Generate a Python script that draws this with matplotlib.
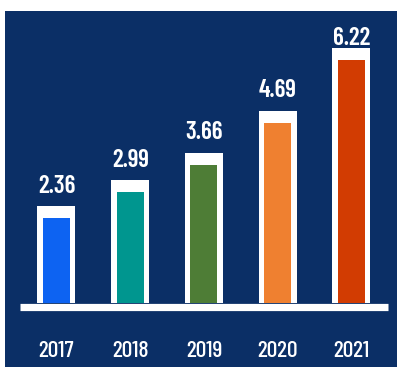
import matplotlib
matplotlib.use("Agg")
import matplotlib.pyplot as plt

# data
years = ['2017', '2018', '2019', '2020', '2021']
values = [2.36, 2.99, 3.66, 4.69, 6.22]
colors = ['#0d63f2', '#00968f', '#4e7d36', '#ef8030', '#d23c02']

navy = '#0b2f66'
plt.rcParams['font.family'] = ['Barlow Condensed', 'DejaVu Sans']

fig = plt.figure(figsize=(3.97, 3.67), dpi=100)
fig.patch.set_facecolor('white')

# navy panel (runs off the right edge)
ax = fig.add_axes([5 / 397, 0, 1.0, 356 / 367])
ax.set_facecolor(navy)
for s in ax.spines.values():
    s.set_visible(False)
ax.set_xticks([])
ax.set_yticks([])
ymax = 7.12
px = 73.75  # pixels per bar slot
ax.set_xlim(-0.698, -0.698 + 397 / px)
ax.set_ylim(-1.56, ymax)

x = list(range(len(years)))
cap = 12 / 41  # white cap thickness in data units

# white frame bars, then colored inner bars
ax.bar(x, values, width=0.515, color='white', zorder=2)
ax.bar(x, [v - cap for v in values], width=0.366, color=colors, zorder=3)

# baseline
ax.hlines(-0.085, -0.5, 4.5, color='white', lw=5.2, zorder=4)

for xi, v, yr in zip(x, values, years):
    ty = min(v + 0.33, ymax - 0.82)
    ax.text(xi, ty, f'{v:.2f}', ha='center', va='baseline', color='white',
            fontsize=18, fontweight='semibold')
    ax.text(xi, -1.317, yr, ha='center', va='baseline', color='white',
            fontsize=17, fontweight='medium')

fig.savefig('out.png', dpi=100, facecolor=fig.get_facecolor())
